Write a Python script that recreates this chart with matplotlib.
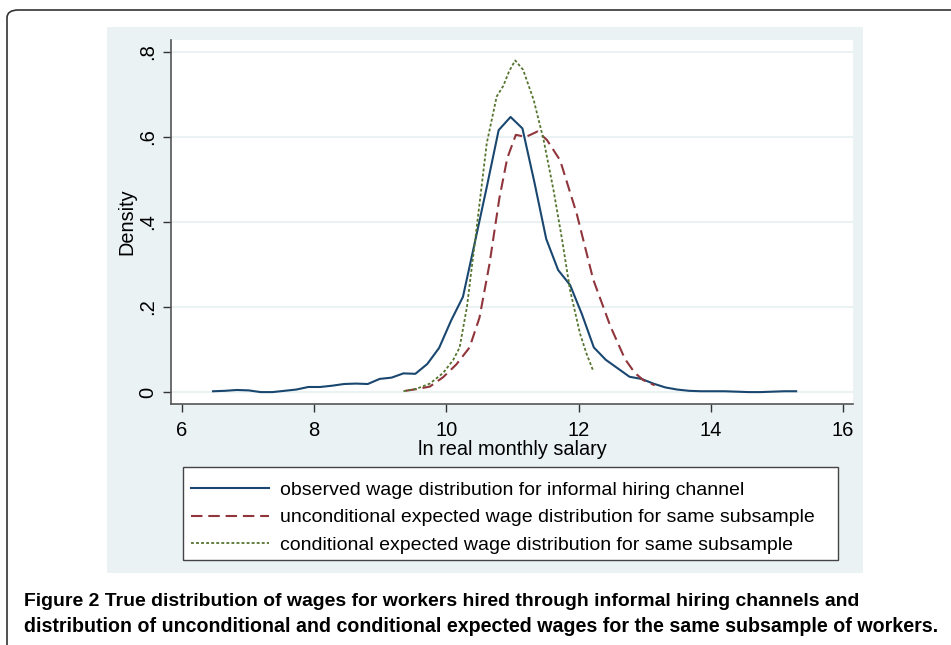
import matplotlib
matplotlib.use("Agg")
import matplotlib.pyplot as plt
from matplotlib.patches import FancyBboxPatch, Rectangle

# observed wage distribution (informal hiring channel)
obs_x = [6.47, 6.65, 6.83, 7.01, 7.19, 7.37, 7.55, 7.73, 7.91, 8.09,
         8.27, 8.45, 8.63, 8.81, 8.99, 9.17, 9.35, 9.53, 9.71, 9.89,
         10.07, 10.25, 10.43, 10.61, 10.79, 10.97, 11.15, 11.33, 11.51, 11.69,
         11.87, 12.05, 12.23, 12.41, 12.59, 12.77, 12.95, 13.13, 13.31, 13.49,
         13.67, 13.85, 14.03, 14.21, 14.39, 14.57, 14.75, 14.93, 15.11, 15.29]
obs_y = [0.002, 0.003, 0.005, 0.004, 0.000, 0.000, 0.003, 0.006, 0.012, 0.012,
         0.015, 0.019, 0.020, 0.019, 0.031, 0.034, 0.044, 0.043, 0.066, 0.104,
         0.168, 0.224, 0.352, 0.482, 0.616, 0.647, 0.620, 0.494, 0.360, 0.287,
         0.252, 0.183, 0.105, 0.076, 0.056, 0.036, 0.031, 0.020, 0.011, 0.006,
         0.003, 0.002, 0.002, 0.002, 0.001, 0.000, 0.000, 0.001, 0.002, 0.002]

# unconditional expected wage distribution
unc_x = [9.38, 9.55, 9.75, 9.95, 10.15, 10.35, 10.50, 10.65, 10.80, 10.92,
         11.05, 11.20, 11.38, 11.52, 11.72, 11.97, 12.22, 12.48, 12.70, 12.85,
         12.98, 13.15]
unc_y = [0.003, 0.007, 0.013, 0.035, 0.065, 0.105, 0.175, 0.300, 0.455, 0.550,
         0.605, 0.600, 0.613, 0.593, 0.545, 0.420, 0.265, 0.155, 0.078, 0.045,
         0.028, 0.016]

# conditional expected wage distribution
con_x = [9.35, 9.55, 9.75, 9.95, 10.10, 10.20, 10.31, 10.46, 10.61, 10.76,
         10.86, 10.95, 11.04, 11.16, 11.32, 11.47, 11.62, 11.75, 11.87, 12.02,
         12.12, 12.22]
con_y = [0.002, 0.008, 0.020, 0.045, 0.075, 0.105, 0.200, 0.390, 0.585, 0.695,
         0.720, 0.755, 0.780, 0.758, 0.687, 0.593, 0.475, 0.358, 0.240, 0.138,
         0.090, 0.050]

labels = ["observed wage distribution for informal hiring channel",
          "unconditional expected wage distribution for same subsample",
          "conditional expected wage distribution for same subsample"]
x_ticks = [6, 8, 10, 12, 14, 16]
y_ticks = [0, 0.2, 0.4, 0.6, 0.8]
y_ticklabels = ["0", ".2", ".4", ".6", ".8"]
caption = ["Figure 2 True distribution of wages for workers hired through informal hiring channels and",
           "distribution of unconditional and conditional expected wages for the same subsample of workers."]

W, H = 951, 645
plt.rcParams['font.family'] = ['Liberation Sans', 'DejaVu Sans']

fig = plt.figure(figsize=(W / 100, H / 100), dpi=100)


def fx(px):
    return px / W


def fy(py):
    return 1 - py / H


# outer frame (runs off the right and bottom edges)
frame = FancyBboxPatch((fx(7), fy(700)), fx(1100), fy(10) - fy(700),
                       boxstyle="round,pad=0,rounding_size=0.012",
                       transform=fig.transFigure, facecolor="none",
                       edgecolor="#333333", linewidth=1.2, clip_on=False, zorder=-2)
fig.patches.append(frame)

# Stata graph region
bg = "#eaf2f3"
fig.patches.append(Rectangle((fx(107), fy(573)), fx(863) - fx(107), fy(27) - fy(573),
                             transform=fig.transFigure, facecolor=bg,
                             edgecolor="none", zorder=-1))
# legend box
fig.patches.append(Rectangle((fx(183), fy(560)), fx(838) - fx(183), fy(467) - fy(560),
                             transform=fig.transFigure, facecolor="white",
                             edgecolor="#444444", lw=1.0, zorder=-0.5))

ax = fig.add_axes([fx(171), fy(404), fx(853) - fx(171), fy(40) - fy(404)])
ax.set_facecolor("white")

ax.plot(obs_x, obs_y, color="#1a476f", lw=1.5, label=labels[0])
ax.plot(unc_x, unc_y, color="#90353b", lw=1.5, dashes=(5.5, 2.8), label=labels[1])
ax.plot(con_x, con_y, color="#55752f", lw=1.3, dashes=(1.6, 1.2), label=labels[2])

ax.set_xlim(5.834, 16.15)
ax.set_ylim(-0.028, 0.828)
ax.set_xticks(x_ticks)
ax.set_yticks(y_ticks)
ax.set_yticklabels(y_ticklabels, rotation=90, va="center")
ax.tick_params(axis="both", direction="out", length=6, width=1, color="#333333",
               labelsize=14.5, labelcolor="black")
ax.tick_params(axis="x", pad=6)
ax.tick_params(axis="y", pad=4)
ax.grid(axis="y", color=bg, lw=1.5)
ax.set_axisbelow(True)
for s in ["top", "right"]:
    ax.spines[s].set_visible(False)
for s in ["left", "bottom"]:
    ax.spines[s].set_color("#555555")
    ax.spines[s].set_linewidth(1.2)

ax.set_xlabel("ln real monthly salary", fontsize=14.3, labelpad=0)
ax.set_ylabel("Density", fontsize=14.3, labelpad=1)

ax.legend(loc="center", bbox_to_anchor=(fx(183), fy(565), fx(838) - fx(183), fy(470) - fy(565)),
          bbox_transform=fig.transFigure, mode="expand", fontsize=14.0,
          handlelength=4.0, handletextpad=0.6, labelspacing=0.5,
          borderpad=0.4, borderaxespad=0, frameon=False)

# caption, shrunk to the printed line width
renderer = fig.canvas.get_renderer()
targets = [(606, 858), (632, 935)]
for line, (base, right) in zip(caption, targets):
    t = fig.text(fx(24), fy(base), line, fontsize=13.5, fontweight="bold",
                 va="baseline", ha="left", family=["Liberation Sans", "DejaVu Sans"])
    w = t.get_window_extent(renderer).width
    t.set_fontsize(13.5 * (right - 24) / w)

fig.savefig("out.png", dpi=100)
